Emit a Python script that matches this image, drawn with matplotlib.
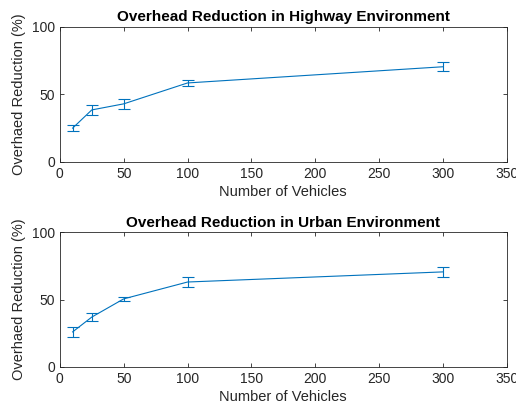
import numpy as np
import matplotlib.pyplot as plt

plt.rcParams['font.family'] = ['Liberation Sans', 'DejaVu Sans']

vehicles = [10, 25, 50, 100, 300]

highway_mean = [25, 38.5, 43, 58.5, 70.5]
highway_err = [2, 4, 3.5, 2, 3.5]

urban_mean = [26, 37, 50.5, 63, 70.5]
urban_err = [4, 3, 1.5, 3.5, 4]

titles = ['Overhead Reduction in Highway Environment',
          'Overhead Reduction in Urban Environment']

blue = '#0072BD'
grey = '#262626'

fig = plt.figure(figsize=(5.16, 4.15), dpi=100)
ax1 = fig.add_axes([0.116, 0.610, 0.866, 0.325])
ax2 = fig.add_axes([0.116, 0.1157, 0.866, 0.325])

for ax, y, e, t in [(ax1, highway_mean, highway_err, titles[0]),
                    (ax2, urban_mean, urban_err, titles[1])]:
    ax.errorbar(vehicles, y, yerr=e, color=blue, lw=0.8, elinewidth=0.8,
                capsize=4, capthick=0.8)
    ax.set_xlim(0, 350)
    ax.set_ylim(0, 100)
    ax.set_xticks(np.arange(0, 351, 50))
    ax.set_yticks([0, 50, 100])
    ax.tick_params(direction='in', top=True, right=True, length=3,
                   width=0.6, labelsize=10, colors=grey, labelcolor=grey)
    for s in ax.spines.values():
        s.set_color(grey)
        s.set_linewidth(0.6)
    ax.set_xlabel('Number of Vehicles', fontsize=10.5, color=grey, labelpad=3)
    ax.set_ylabel('Overhaed Reduction (%)', fontsize=10.5, color=grey, labelpad=4)
    ax.set_title(t, fontsize=11, fontweight='bold', color='black', pad=4)

fig.savefig('out.png', dpi=100)
